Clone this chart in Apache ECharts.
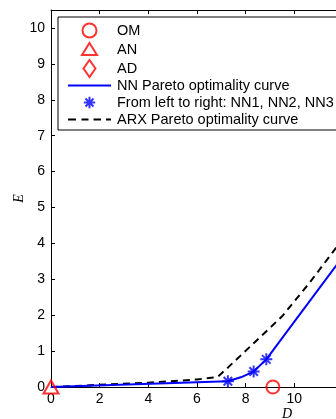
<!DOCTYPE html>
<html><head><meta charset="utf-8">
<script src="https://cdn.jsdelivr.net/npm/echarts@6/dist/echarts.min.js"></script>
<style>html,body{margin:0;padding:0;background:#fff}#c{width:336px;height:419px}</style>
</head><body><div id="c"></div>
<script>
const omPoint = [[9.12, 0]];
const anPoint = [[0, 0]];
const adPoint = [];
const nnCurve = [[0, 0], [7.27, 0.16], [7.8, 0.27], [8.33, 0.43], [8.85, 0.77], [10.08, 1.89], [11.69, 3.35], [13, 4.55]];
const nnModels = [[7.27, 0.16], [8.33, 0.43], [8.85, 0.77]];
const arxCurve = [[0, 0], [2, 0.06], [4, 0.12], [6, 0.21], [6.85, 0.28], [7.3, 0.56], [8.3, 1.2], [9.5, 1.97], [10.6, 2.88], [11.7, 3.86], [13, 5.0]];
const legendNames = ['OM', 'AN', 'AD', 'NN Pareto optimality curve', 'From left to right: NN1, NN2, NN3', 'ARX Pareto optimality curve'];
const xTicks = {min: 0, max: 19.4, interval: 2};
const yTicks = {min: 0, max: 10.5, interval: 1};

const starPath = 'path://M0,-5L0,5M-5,0L5,0M-3.54,-3.54L3.54,3.54M-3.54,3.54L3.54,-3.54';
const starIcon = 'path://M0,-5L0,5M-5,0L5,0M-3.54,-3.54L3.54,3.54M-3.54,3.54L3.54,-3.54M0,-7.5M0,7.5';
const circIcon = 'path://M0,-7A7,7 0 1 1 0,7A7,7 0 1 1 0,-7ZM0,-8.5M0,8.5';
const triPath = 'path://M0,-6.5L7.5,5.5L-7.5,5.5Z';
const triIcon = 'path://M0,-6.5L7.5,5.5L-7.5,5.5ZM0,-8.5M0,8.5';
const diaPath = 'path://M0,-8.5L6,0L0,8.5L-6,0Z';
const solidIcon = 'path://M0,0L43,0L43,2L0,2Z';
const dashIcon = 'path://M0,0h8v2h-8zM13.5,0h7v2h-7zM25.5,0h7.5v2h-7.5zM38,0h5v2h-5z';
const RED = '#ff0000', BLUE = '#0000ff';
const chart = echarts.init(document.getElementById('c'), null, {renderer: 'canvas'});
const lblFont = {color: '#000', fontSize: 14, fontFamily: 'Liberation Sans, Arial, sans-serif'};
chart.setOption({
  animation: false,
  backgroundColor: '#fff',
  grid: {left: 51, top: 10, bottom: 32, right: -187, containLabel: false, outerBoundsMode: 'none'},
  xAxis: [{
    type: 'value', min: xTicks.min, max: xTicks.max, interval: xTicks.interval,
    name: 'D', nameLocation: 'middle', nameGap: 20, nameMoveOverlap: false,
    nameTextStyle: {fontFamily: 'Liberation Serif, Times New Roman, serif', fontStyle: 'italic', fontSize: 14, color: '#000'},
    axisLine: {show: true, onZero: false, lineStyle: {color: '#000', width: 1}},
    axisTick: {show: true, inside: true, length: 4, lineStyle: {color: '#000'}},
    axisLabel: Object.assign({margin: 5, showMaxLabel: false, formatter: v => Number.isInteger(v) ? String(v) : ''}, lblFont),
    splitLine: {show: false}
  }, {
    type: 'value', position: 'top', min: xTicks.min, max: xTicks.max, interval: xTicks.interval,
    axisLine: {show: true, onZero: false, lineStyle: {color: '#000', width: 1}},
    axisTick: {show: true, inside: true, length: 4, lineStyle: {color: '#000'}},
    axisLabel: {show: false}, splitLine: {show: false}
  }],
  yAxis: [{
    type: 'value', min: yTicks.min, max: yTicks.max, interval: yTicks.interval,
    name: 'E', nameLocation: 'middle', nameGap: 25, nameMoveOverlap: false,
    nameTextStyle: {fontFamily: 'Liberation Serif, Times New Roman, serif', fontStyle: 'italic', fontSize: 14, color: '#000'},
    axisLine: {show: true, onZero: false, lineStyle: {color: '#000', width: 1}},
    axisTick: {show: true, inside: true, length: 4, lineStyle: {color: '#000'}},
    axisLabel: Object.assign({margin: 6, showMaxLabel: false, formatter: v => Number.isInteger(v) ? String(v) : ''}, lblFont),
    splitLine: {show: false}
  }],
  legend: {
    orient: 'vertical', left: 58, top: 17,
    padding: [4, 30, 3, 10], itemWidth: 43, itemHeight: 17, itemGap: 0,
    backgroundColor: '#fff', borderColor: '#000', borderWidth: 1, borderRadius: 0,
    textStyle: {color: '#000', fontSize: 14.5, fontFamily: 'Liberation Sans, Arial, sans-serif', lineHeight: 15, padding: [0, 0, 0, 1]},
    selectedMode: false,
    data: [
      {name: legendNames[0], icon: circIcon},
      {name: legendNames[1], icon: triIcon},
      {name: legendNames[2], icon: diaPath},
      {name: legendNames[3], icon: solidIcon, itemStyle: {color: BLUE, borderWidth: 0}},
      {name: legendNames[4], icon: starIcon},
      {name: legendNames[5], icon: dashIcon, itemStyle: {color: '#000', borderWidth: 0}}
    ]
  },
  series: [
    {name: legendNames[0], type: 'scatter', data: omPoint, symbol: 'circle', symbolSize: 13, z: 5,
     itemStyle: {color: 'rgba(0,0,0,0)', borderColor: RED, borderWidth: 2}},
    {name: legendNames[1], type: 'scatter', data: anPoint, symbol: triPath, symbolSize: [15, 13], z: 5,
     itemStyle: {color: 'rgba(0,0,0,0)', borderColor: RED, borderWidth: 2}},
    {name: legendNames[2], type: 'scatter', data: adPoint, symbol: diaPath, symbolSize: [12, 17], z: 5,
     itemStyle: {color: 'rgba(0,0,0,0)', borderColor: RED, borderWidth: 2}},
    {name: legendNames[3], type: 'line', data: nnCurve, symbol: 'none', smooth: false, z: 3,
     lineStyle: {color: BLUE, width: 2}, itemStyle: {color: BLUE}},
    {name: legendNames[4], type: 'scatter', data: nnModels, symbol: starPath, symbolSize: 12, z: 4,
     itemStyle: {color: 'rgba(0,0,0,0)', borderColor: BLUE, borderWidth: 2}},
    {name: legendNames[5], type: 'line', data: arxCurve, symbol: 'none', smooth: false, z: 2,
     lineStyle: {color: '#000', width: 2, type: [7, 5]}, itemStyle: {color: '#000'}}
  ]
});
</script></body></html>
